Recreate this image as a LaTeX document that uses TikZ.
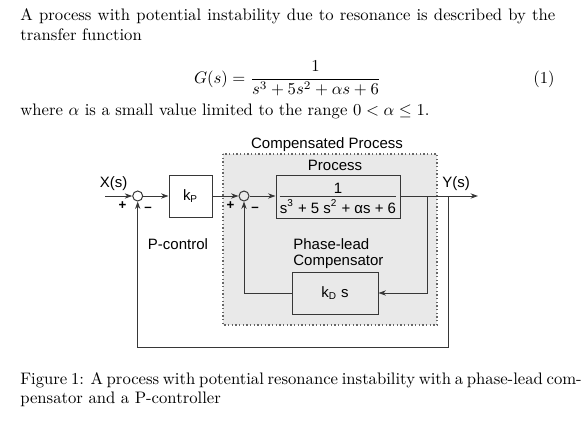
\documentclass[tikz,border=0pt]{standalone}
\usepackage{amsmath, amssymb}
\usepackage{fontspec}
\usepackage{tikz}
\usetikzlibrary{positioning, arrows.meta}
\newfontfamily\diagfont{Liberation Sans}
\definecolor{lightshade}{RGB}{233, 233, 233}
\definecolor{lineshade}{RGB}{55, 55, 55}
\tikzset{
  block/.style={draw=lineshade, line width=0.6pt, inner sep=0pt, font=\fontsize{9}{11}\selectfont\diagfont},
  sumpt/.style={draw=lineshade, circle, line width=0.6pt, minimum size=6pt, inner sep=0pt},
  sig/.style={draw=lineshade, line width=0.6pt, -{Stealth[length=4.5pt, width=3.2pt]}},
  wire/.style={draw=lineshade, line width=0.6pt},
  lbl/.style={inner sep=0pt, anchor=base, font=\fontsize{9}{11}\selectfont\diagfont},
  sgn/.style={inner sep=0pt, font=\fontsize{8}{9}\selectfont\diagfont\bfseries},
  body/.style={inner sep=0pt, anchor=base west},
}

\begin{document}
\begin{tikzpicture}[x=0.6pt, y=-0.6pt]
  \useasboundingbox (0,0) rectangle (586,430);

  % text above the figure
  \node[body] (line1) at (20,20) {\makebox[321pt][s]{A process with potential instability due to resonance is described by the}};
  \node[body] (line2) at (20,40) {transfer function};
  \node[inner sep=0pt, anchor=base] (eq) at (287.5,83.2) {$G(s)=\dfrac{1}{s^3+5s^2+\alpha s+6}$};
  \node[inner sep=0pt, anchor=base east] (eqno) at (555,83.2) {(1)};
  \node[body] (line3) at (20,115) {where $\alpha$ is a small value limited to the range $0<\alpha\leq 1$.};

  % compensated process region
  \fill[lightshade] (223,154) rectangle (437,325);
  \draw[black!60, line width=0.8pt, dash pattern=on 0.8pt off 1.4pt] (223,154) rectangle (437,325);
  \node[lbl] (comp) at (327,148) {Compensated Process};

  % blocks
  \node[sumpt] (sum1) at (137.7,196) {};
  \node[block, minimum width=25.8pt, minimum height=25.2pt] (kp) at (190.5,196) {k\textsubscript{P}};
  \node[sumpt] (sum2) at (244,196) {};
  \node[block, minimum width=74.4pt, minimum height=25.8pt] (proc) at (338,196.5) {};
  \node[lbl] (procnum) at (338,193) {1};
  \node[lbl] (procden) at (338,213) {s\textsuperscript{3} + 5 s\textsuperscript{2} + αs + 6};
  \draw[wire] (procden.west |- sum2.center) -- (procden.east |- sum2.center);
  \node[block, minimum width=51.6pt, minimum height=25.2pt] (kd) at (335,293) {k\textsubscript{D} s};

  % labels
  \node[lbl] (procname) at (335,170) {Process};
  \node[lbl] (xin) at (113.5,187) {X(s)};
  \node[lbl] (yout) at (456,187) {Y(s)};
  \node[lbl] (pctrl) at (178,249) {P-control};
  \node[lbl, anchor=base west] (lead1) at (293,249) {Phase-lead};
  \node[lbl, anchor=base west] (lead2) at (293,265) {Compensator};
  \node[sgn] (p1) at (122.5,205.5) {+};
  \node[sgn] (m1) at (148,209) {–};
  \node[sgn] (p2) at (230.5,205.5) {+};
  \node[sgn] (m2) at (255,209) {–};

  % signal paths
  \coordinate (xstart) at (105,196);
  \coordinate (yend) at (478,196);
  \coordinate (inner) at (427,196);
  \coordinate (outer) at (448,196);
  \coordinate (bottom) at (448,347);
  \draw[sig] (xstart) -- (sum1.west);
  \draw[sig] (sum1.east) -- (kp.west);
  \draw[sig] (kp.east) -- (sum2.west);
  \draw[sig] (sum2.east) -- (proc.west |- sum2.east);
  \draw[sig] (proc.east |- sum2.east) -- (yend);
  \draw[sig] (inner) |- (kd.east);
  \draw[sig] (kd.west) -| (sum2.south);
  \draw[sig] (outer) -- (bottom) -| (sum1.south);

  % caption
  \node[body] (cap1) at (20,384) {\makebox[321pt][s]{Figure 1: A process with potential resonance instability with a phase-lead com-}};
  \node[body] (cap2) at (20,403) {pensator and a P-controller};
\end{tikzpicture}
\end{document}
